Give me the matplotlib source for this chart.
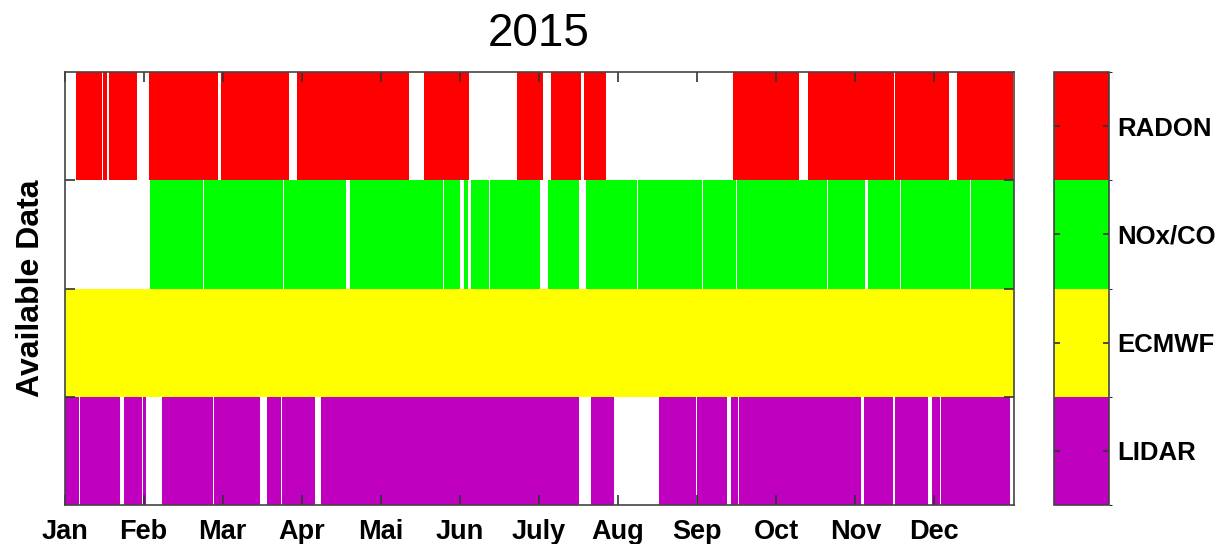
import matplotlib
matplotlib.use("Agg")
import matplotlib.pyplot as plt
from matplotlib.colors import ListedColormap, BoundaryNorm
import matplotlib.colorbar as mcolorbar

plt.rcParams['font.family'] = ['Liberation Sans', 'DejaVu Sans']

year_title = "2015"
instruments = ["LIDAR", "ECMWF", "NOx/CO", "RADON"]          # bottom to top
colors = ["#BF00BF", "#FFFF00", "#00FF00", "#FF0000"]
months = ["Jan", "Feb", "Mar", "Apr", "Mai", "Jun", "July", "Aug", "Sep",
          "Oct", "Nov", "Dec"]
n_days = 365

# data gaps (start day, end day)
radon_gaps = [(0, 4.4), (14.5, 14.8), (16.3, 17.0), (27.8, 32.6), (59.1, 60.0),
              (86.2, 89.3), (132.6, 138.1), (155.7, 174.0), (184.1, 187.0),
              (198.7, 199.8), (208.1, 257.2), (282.5, 286.0), (319.2, 319.4),
              (340.3, 343.1), (364.7, 365)]
nox_gaps = [(0, 32.9), (53.3, 53.6), (84.1, 84.6), (108.1, 109.9), (140.1, 140.3),
            (145.6, 145.8), (152.1, 153.7), (155.1, 156.3), (163.4, 163.6),
            (168.5, 168.7), (183.0, 186.1), (198.0, 200.6), (220.3, 220.5),
            (245.3, 245.5), (249.4, 249.6), (254.4, 254.6), (258.3, 258.5),
            (266.6, 266.8), (293.4, 293.6), (307.7, 308.9), (321.4, 321.6),
            (348.3, 348.5)]
ecmwf_gaps = []
lidar_gaps = [(5.5, 5.8), (18.6, 18.7), (21.4, 22.9), (25.9, 26.0), (28.7, 28.8),
              (29.8, 30.2), (31.3, 37.4), (49.4, 49.6), (57.3, 57.4), (75.3, 77.8),
              (83.3, 83.5), (96.5, 98.5), (197.8, 202.6), (211.5, 228.6),
              (243.0, 243.2), (254.7, 256.2), (259.0, 259.3), (306.5, 307.5),
              (309.0, 309.2), (318.7, 319.3), (332.3, 333.5), (336.9, 337.1),
              (363.7, 365)]
all_gaps = [lidar_gaps, ecmwf_gaps, nox_gaps, radon_gaps]


def available(gaps, total):
    segs = []
    cur = 0.0
    for s, e in sorted(gaps):
        if s > cur:
            segs.append((cur, s - cur))
        cur = max(cur, e)
    if cur < total:
        segs.append((cur, total - cur))
    return segs


fig = plt.figure(figsize=(12.24, 5.44), dpi=100)
ax = fig.add_axes([64.5 / 1224, 1 - 505 / 544, 949 / 1224, 433 / 544])

for i, (gaps, col) in enumerate(zip(all_gaps, colors)):
    ax.broken_barh(available(gaps, n_days), (i, 1), facecolors=col,
                   edgecolor='none', linewidth=0, antialiased=True)

ax.set_xlim(0, n_days)
ax.set_ylim(0, 4)
ax.set_xticks([k * n_days / 12 for k in range(12)])
ax.set_xticklabels(months, fontsize=19.5, fontweight='bold')
ax.set_yticks([1, 2, 3])
ax.set_yticklabels([])
ax.tick_params(axis='both', direction='in', length=7, width=1.2, color='#333333',
               top=True, right=True)
ax.tick_params(axis='x', pad=10)
for sp in ax.spines.values():
    sp.set_color('#444444')
    sp.set_linewidth(1.2)
ax.set_ylabel("Available Data", fontsize=23, fontweight='bold', labelpad=10)
ax.set_title(year_title, fontsize=33, pad=19)

cax = fig.add_axes([1054 / 1224, 1 - 505 / 544, 55 / 1224, 433 / 544])
cmap = ListedColormap(colors)
norm = BoundaryNorm([0, 1, 2, 3, 4], cmap.N)
cb = mcolorbar.ColorbarBase(cax, cmap=cmap, norm=norm, ticks=[0.5, 1.5, 2.5, 3.5])
cb.set_ticklabels(instruments)
cax.tick_params(direction='in', length=4, width=1.2, color='#333333', left=True,
                right=True, labelsize=18.5, pad=6)
for lab in cax.get_yticklabels():
    lab.set_fontweight('bold')
cb.outline.set_edgecolor('#444444')
cb.outline.set_linewidth(1.2)

fig.savefig("out.png", dpi=100)
